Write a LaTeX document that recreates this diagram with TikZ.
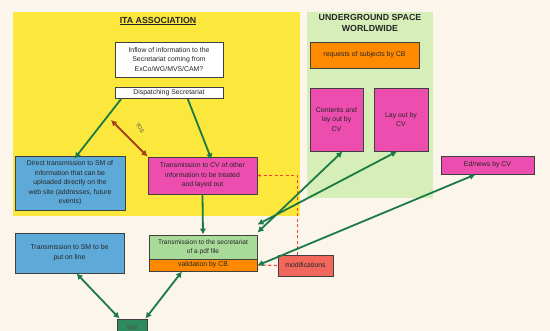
\documentclass[tikz,border=0pt]{standalone}
\usepackage{fontspec}
\setmainfont{Liberation Sans}
\usetikzlibrary{arrows.meta}
\definecolor{bgcream}{HTML}{FCF5EB}
\definecolor{itayellow}{HTML}{FCE83C}
\definecolor{uswgreen}{HTML}{D6EFB8}
\definecolor{hotpink}{HTML}{EE4DB0}
\definecolor{boxorange}{HTML}{FF8A00}
\definecolor{boxblue}{HTML}{5DAAD8}
\definecolor{boxlgreen}{HTML}{A8DB9A}
\definecolor{boxred}{HTML}{F2675B}
\definecolor{boxdgreen}{HTML}{2E8B60}
\definecolor{arrgreen}{HTML}{1B7A45}
\definecolor{arrbrown}{HTML}{A5421A}
\definecolor{dashred}{HTML}{FF3B2F}
\begin{document}
\begin{tikzpicture}[x=1pt,y=-1pt,
  box/.style={draw=black!75, line width=0.9pt, align=center, inner sep=0pt,
    font=\fontsize{6.9}{9.6}\selectfont, text=black!85},
  garrow/.style={draw=arrgreen, line width=1.8pt, -{Latex[length=6pt,width=6.5pt]}},
  gdarrow/.style={draw=arrgreen, line width=1.8pt, {Latex[length=6pt,width=6.5pt]}-{Latex[length=6pt,width=6.5pt]}},
  barrow/.style={draw=arrbrown, line width=1.8pt, {Latex[length=6pt,width=6.5pt]}-{Latex[length=6pt,width=6.5pt]}},
  rdash/.style={draw=dashred, line width=1.1pt, dash pattern=on 3pt off 2.5pt},
  title/.style={font=\fontsize{8.8}{11.5}\selectfont\bfseries, align=center, text=black!85}]
\useasboundingbox (0,0) rectangle (550,331);
\fill[bgcream] (0,0) rectangle (550,331);
\fill[itayellow] (13,12) rectangle (300,216);
\fill[uswgreen] (307,12) rectangle (433,198);
\node[title] (itatitle) at (158,21) {\underline{ITA ASSOCIATION}};
\node[title] (uswtitle) at (370,23) {UNDERGROUND SPACE\\WORLDWIDE};
% boxes
\node[box, fill=white, minimum width=108pt, minimum height=35pt] (inflow) at (169,59.5)
  {Inflow of information to the\\Secretariat coming from\\ExCo/WG/MVS/CAM?};
\node[box, fill=white, minimum width=108pt, minimum height=11pt] (dispatch) at (169,92.5)
  {Dispatching Secretariat};
\node[box, fill=boxblue, minimum width=110pt, minimum height=54pt] (direct) at (70,183)
  {Direct transmission to SM of\\information that can be\\uploaded directly on the\\web site (addresses, future\\events)};
\node[box, fill=hotpink, minimum width=109pt, minimum height=37pt] (cvtrans) at (202.5,175.5)
  {Transmission to CV of other\\information to be treated\\and layed out};
\node[box, fill=boxorange, minimum width=109pt, minimum height=26pt] (requests) at (364.5,55)
  {requests of subjects by CB};
\node[box, fill=hotpink, minimum width=53pt, minimum height=63pt] (contents) at (336.5,119.5)
  {Contents and\\lay out by\\CV};
\node[box, fill=hotpink, minimum width=54pt, minimum height=63pt] (layout) at (401,119.5)
  {Lay out by\\CV};
\node[box, fill=hotpink, minimum width=93pt, minimum height=18pt] (ednews) at (487.5,165)
  {Ed/news by CV};
\node[box, fill=boxblue, minimum width=109pt, minimum height=40pt] (smtrans) at (69.5,253)
  {Transmission to SM to be\\put on line};
\node[box, fill=boxlgreen, minimum width=108pt, minimum height=24pt, font=\fontsize{6.6}{9}\selectfont] (pdf) at (203,247)
  {Transmission to the secretariat\\of a pdf file};
\node[box, fill=boxorange, minimum width=108pt, minimum height=12pt] (valid) at (203,265)
  {validation by CB};
\node[box, fill=boxred, minimum width=55pt, minimum height=21pt] (modif) at (305.5,265.5)
  {modifications};
\node[box, fill=boxdgreen, minimum width=30pt, minimum height=18pt, text=black!70] (sm) at (132,328)
  {SM};
% dashed feedback
\draw[rdash, -{Latex[length=3pt,width=3pt]}] ([xshift=-8pt]modif.north) |- (cvtrans.east);
\draw[rdash] (valid.east) -- (modif.west);
% arrows
\draw[garrow] ([xshift=7pt]dispatch.south west) -- ([xshift=60pt,yshift=-3pt]direct.north west);
\draw[garrow] ([xshift=73pt]dispatch.south west) -- ([xshift=64pt,yshift=-3pt]cvtrans.north west);
\coordinate (bstart) at (111,120);
\draw[barrow] (bstart) -- (cvtrans.north west);
\node[rotate=-60, font=\fontsize{5.5}{6}\selectfont, text=black!70, inner sep=0pt] (toslabel) at (140,128) {TOS};
\draw[garrow] (cvtrans.south) -- (pdf.north);
\draw[gdarrow] ([xshift=6pt]contents.south) -- ([yshift=2pt]pdf.north east);
\draw[gdarrow] ([xshift=-4pt]layout.south) -- ([yshift=10pt]pdf.north east);
\draw[gdarrow] ([xshift=-12pt]ednews.south) -- ([yshift=-6pt]pdf.south east);
\draw[gdarrow] ([xshift=7pt]smtrans.south) -- ([xshift=3pt]sm.north west);
\draw[gdarrow] ([xshift=-21pt]valid.south) -- ([xshift=-2pt]sm.north east);
\end{tikzpicture}
\end{document}
